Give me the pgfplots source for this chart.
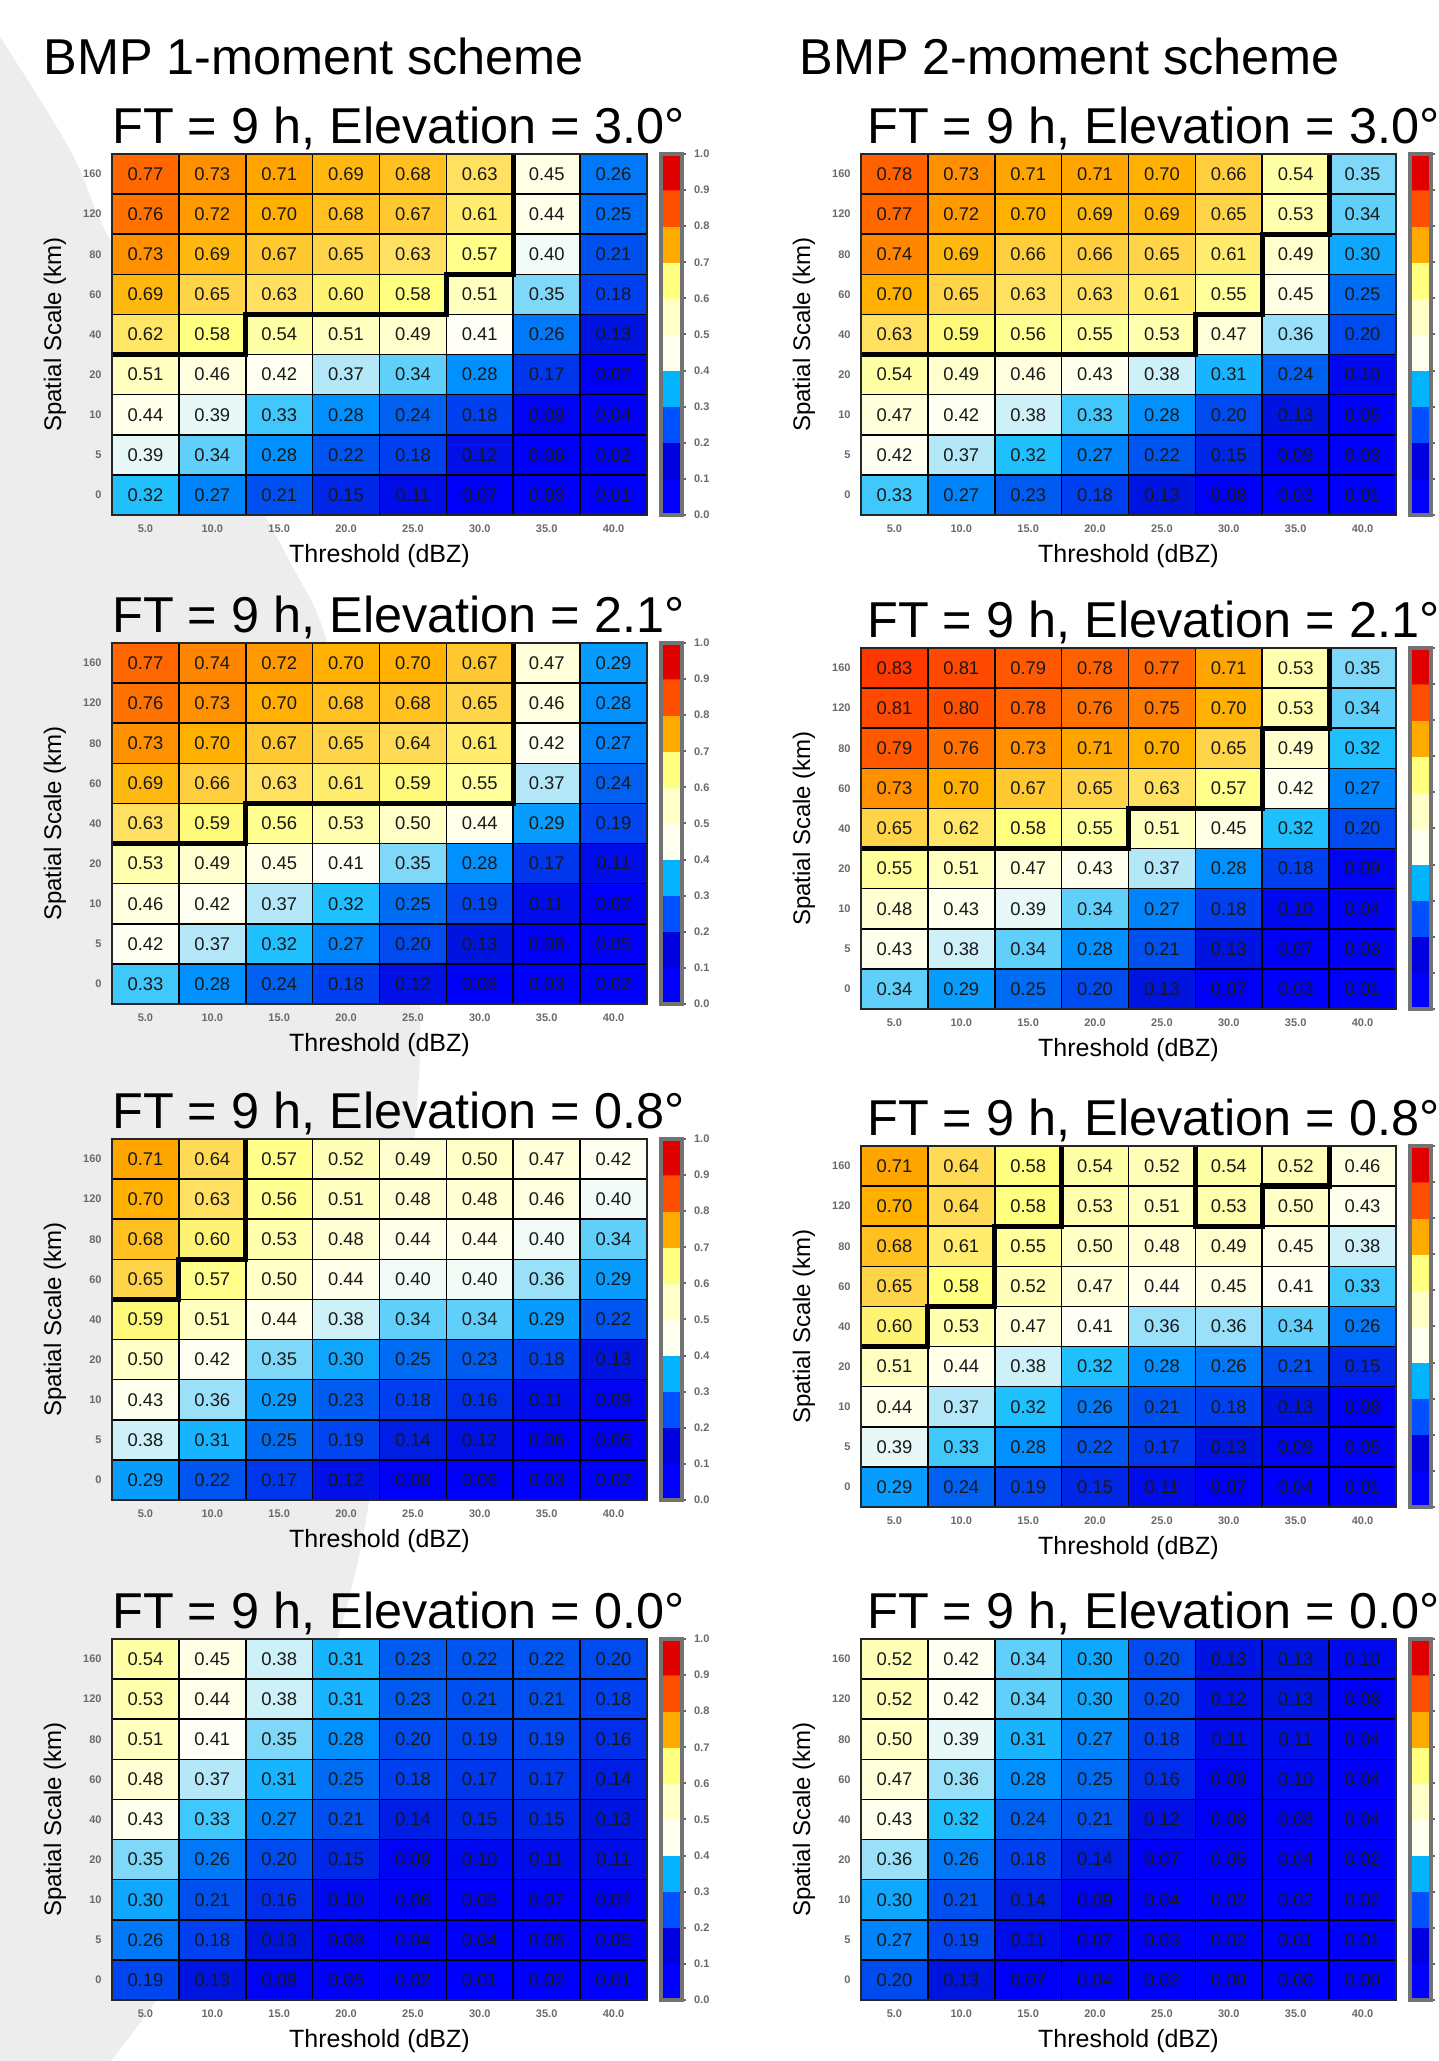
\documentclass[border=0pt]{standalone}
\usepackage{pgfplots}
\pgfplotsset{compat=1.18}
\usepackage{pgfplotstable}
\usepackage{fontspec}
\setmainfont{Liberation Sans}
\definecolor{bg}{RGB}{237,237,237}
\definecolor{ticktext}{RGB}{105,105,105}

\pgfplotsset{
  colormap={bands}{rgb255=(0,0,255) rgb255=(0,0,222) rgb255=(0,80,255) rgb255=(0,180,255) rgb255=(255,255,240) rgb255=(255,255,200) rgb255=(255,255,128) rgb255=(255,170,0) rgb255=(255,80,0) rgb255=(224,0,0)},
  colormap={fss}{rgb255(0pt)=(0,0,255) rgb255(8pt)=(0,0,248) rgb255(13pt)=(0,20,225) rgb255(18pt)=(0,64,240) rgb255(24pt)=(0,96,240) rgb255(28pt)=(0,144,255) rgb255(32pt)=(32,192,255) rgb255(35pt)=(128,216,248) rgb255(39pt)=(232,248,248) rgb255(41pt)=(255,255,245) rgb255(45pt)=(255,255,230) rgb255(51pt)=(255,255,192) rgb255(58pt)=(255,255,128) rgb255(63pt)=(255,224,96) rgb255(67pt)=(255,200,48) rgb255(70pt)=(255,176,0) rgb255(73pt)=(255,144,0) rgb255(77pt)=(255,104,0) rgb255(83pt)=(255,56,0) rgb255(100pt)=(220,0,0)},
  heat/.style={
    scale only axis, width=267.5pt, height=180.5pt, anchor=north west,
    xmin=-0.5, xmax=7.5, ymin=-0.5, ymax=8.5,
    xtick={0,...,7}, xticklabels={5.0,10.0,15.0,20.0,25.0,30.0,35.0,40.0},
    ytick={0,...,8}, yticklabels={0,5,10,20,40,60,80,120,160},
    major tick length=0pt, minor tick length=0pt,
    minor xtick={0.5,1.5,...,6.5}, minor ytick={0.5,1.5,...,7.5},
    xminorgrids=true, yminorgrids=true,
    minor grid style={black, line width=0.8pt},
    axis on top,
    axis line style={black!85, line width=1.3pt},
    tick label style={font=\fontsize{5.5}{6}\selectfont\bfseries, text=ticktext},
    xticklabel style={yshift=-1.2pt},
    yticklabel style={xshift=-1.7pt},
    colormap name=fss, point meta min=0, point meta max=1,
    xlabel={Threshold (dBZ)},
    xlabel style={at={(axis description cs:0.5,-0.1136)}, anchor=center, font=\fontsize{12.5}{14}\selectfont},
    ylabel={Spatial Scale (km)},
    ylabel style={at={(axis description cs:-0.1065,0.5)}, anchor=center, font=\fontsize{12}{14}\selectfont},
    title style={at={(axis description cs:0,1)}, anchor=base west, yshift=-1pt, font=\fontsize{25.2}{28}\selectfont, inner sep=0pt},
  },
}

\pgfplotstableread[row sep=\\]{x y c\\
0 0.05 0\\1 0.05 0\\0 0.15 1\\1 0.15 1\\0 0.25 2\\1 0.25 2\\0 0.35 3\\1 0.35 3\\0 0.45 4\\1 0.45 4\\
0 0.55 5\\1 0.55 5\\0 0.65 6\\1 0.65 6\\0 0.75 7\\1 0.75 7\\0 0.85 8\\1 0.85 8\\0 0.95 9\\1 0.95 9\\}\tbands

% Left, elevation 3.0
\pgfplotstableread[row sep=\\]{x y v\\
0 0 0.32\\1 0 0.27\\2 0 0.21\\3 0 0.15\\4 0 0.11\\5 0 0.07\\6 0 0.03\\7 0 0.01\\
0 1 0.39\\1 1 0.34\\2 1 0.28\\3 1 0.22\\4 1 0.18\\5 1 0.12\\6 1 0.06\\7 1 0.02\\
0 2 0.44\\1 2 0.39\\2 2 0.33\\3 2 0.28\\4 2 0.24\\5 2 0.18\\6 2 0.09\\7 2 0.04\\
0 3 0.51\\1 3 0.46\\2 3 0.42\\3 3 0.37\\4 3 0.34\\5 3 0.28\\6 3 0.17\\7 3 0.07\\
0 4 0.62\\1 4 0.58\\2 4 0.54\\3 4 0.51\\4 4 0.49\\5 4 0.41\\6 4 0.26\\7 4 0.13\\
0 5 0.69\\1 5 0.65\\2 5 0.63\\3 5 0.60\\4 5 0.58\\5 5 0.51\\6 5 0.35\\7 5 0.18\\
0 6 0.73\\1 6 0.69\\2 6 0.67\\3 6 0.65\\4 6 0.63\\5 6 0.57\\6 6 0.40\\7 6 0.21\\
0 7 0.76\\1 7 0.72\\2 7 0.70\\3 7 0.68\\4 7 0.67\\5 7 0.61\\6 7 0.44\\7 7 0.25\\
0 8 0.77\\1 8 0.73\\2 8 0.71\\3 8 0.69\\4 8 0.68\\5 8 0.63\\6 8 0.45\\7 8 0.26\\}\tA
% Right, elevation 3.0
\pgfplotstableread[row sep=\\]{x y v\\
0 0 0.33\\1 0 0.27\\2 0 0.23\\3 0 0.18\\4 0 0.13\\5 0 0.08\\6 0 0.03\\7 0 0.01\\
0 1 0.42\\1 1 0.37\\2 1 0.32\\3 1 0.27\\4 1 0.22\\5 1 0.15\\6 1 0.09\\7 1 0.03\\
0 2 0.47\\1 2 0.42\\2 2 0.38\\3 2 0.33\\4 2 0.28\\5 2 0.20\\6 2 0.13\\7 2 0.05\\
0 3 0.54\\1 3 0.49\\2 3 0.46\\3 3 0.43\\4 3 0.38\\5 3 0.31\\6 3 0.24\\7 3 0.10\\
0 4 0.63\\1 4 0.59\\2 4 0.56\\3 4 0.55\\4 4 0.53\\5 4 0.47\\6 4 0.36\\7 4 0.20\\
0 5 0.70\\1 5 0.65\\2 5 0.63\\3 5 0.63\\4 5 0.61\\5 5 0.55\\6 5 0.45\\7 5 0.25\\
0 6 0.74\\1 6 0.69\\2 6 0.66\\3 6 0.66\\4 6 0.65\\5 6 0.61\\6 6 0.49\\7 6 0.30\\
0 7 0.77\\1 7 0.72\\2 7 0.70\\3 7 0.69\\4 7 0.69\\5 7 0.65\\6 7 0.53\\7 7 0.34\\
0 8 0.78\\1 8 0.73\\2 8 0.71\\3 8 0.71\\4 8 0.70\\5 8 0.66\\6 8 0.54\\7 8 0.35\\}\tB
% Left, elevation 2.1
\pgfplotstableread[row sep=\\]{x y v\\
0 0 0.33\\1 0 0.28\\2 0 0.24\\3 0 0.18\\4 0 0.12\\5 0 0.08\\6 0 0.03\\7 0 0.02\\
0 1 0.42\\1 1 0.37\\2 1 0.32\\3 1 0.27\\4 1 0.20\\5 1 0.13\\6 1 0.08\\7 1 0.05\\
0 2 0.46\\1 2 0.42\\2 2 0.37\\3 2 0.32\\4 2 0.25\\5 2 0.19\\6 2 0.11\\7 2 0.07\\
0 3 0.53\\1 3 0.49\\2 3 0.45\\3 3 0.41\\4 3 0.35\\5 3 0.28\\6 3 0.17\\7 3 0.11\\
0 4 0.63\\1 4 0.59\\2 4 0.56\\3 4 0.53\\4 4 0.50\\5 4 0.44\\6 4 0.29\\7 4 0.19\\
0 5 0.69\\1 5 0.66\\2 5 0.63\\3 5 0.61\\4 5 0.59\\5 5 0.55\\6 5 0.37\\7 5 0.24\\
0 6 0.73\\1 6 0.70\\2 6 0.67\\3 6 0.65\\4 6 0.64\\5 6 0.61\\6 6 0.42\\7 6 0.27\\
0 7 0.76\\1 7 0.73\\2 7 0.70\\3 7 0.68\\4 7 0.68\\5 7 0.65\\6 7 0.46\\7 7 0.28\\
0 8 0.77\\1 8 0.74\\2 8 0.72\\3 8 0.70\\4 8 0.70\\5 8 0.67\\6 8 0.47\\7 8 0.29\\}\tC
% Right, elevation 2.1
\pgfplotstableread[row sep=\\]{x y v\\
0 0 0.34\\1 0 0.29\\2 0 0.25\\3 0 0.20\\4 0 0.13\\5 0 0.07\\6 0 0.03\\7 0 0.01\\
0 1 0.43\\1 1 0.38\\2 1 0.34\\3 1 0.28\\4 1 0.21\\5 1 0.13\\6 1 0.07\\7 1 0.03\\
0 2 0.48\\1 2 0.43\\2 2 0.39\\3 2 0.34\\4 2 0.27\\5 2 0.18\\6 2 0.10\\7 2 0.04\\
0 3 0.55\\1 3 0.51\\2 3 0.47\\3 3 0.43\\4 3 0.37\\5 3 0.28\\6 3 0.18\\7 3 0.09\\
0 4 0.65\\1 4 0.62\\2 4 0.58\\3 4 0.55\\4 4 0.51\\5 4 0.45\\6 4 0.32\\7 4 0.20\\
0 5 0.73\\1 5 0.70\\2 5 0.67\\3 5 0.65\\4 5 0.63\\5 5 0.57\\6 5 0.42\\7 5 0.27\\
0 6 0.79\\1 6 0.76\\2 6 0.73\\3 6 0.71\\4 6 0.70\\5 6 0.65\\6 6 0.49\\7 6 0.32\\
0 7 0.81\\1 7 0.80\\2 7 0.78\\3 7 0.76\\4 7 0.75\\5 7 0.70\\6 7 0.53\\7 7 0.34\\
0 8 0.83\\1 8 0.81\\2 8 0.79\\3 8 0.78\\4 8 0.77\\5 8 0.71\\6 8 0.53\\7 8 0.35\\}\tD
% Left, elevation 0.8
\pgfplotstableread[row sep=\\]{x y v\\
0 0 0.29\\1 0 0.22\\2 0 0.17\\3 0 0.12\\4 0 0.08\\5 0 0.06\\6 0 0.03\\7 0 0.02\\
0 1 0.38\\1 1 0.31\\2 1 0.25\\3 1 0.19\\4 1 0.14\\5 1 0.12\\6 1 0.06\\7 1 0.06\\
0 2 0.43\\1 2 0.36\\2 2 0.29\\3 2 0.23\\4 2 0.18\\5 2 0.16\\6 2 0.11\\7 2 0.09\\
0 3 0.50\\1 3 0.42\\2 3 0.35\\3 3 0.30\\4 3 0.25\\5 3 0.23\\6 3 0.18\\7 3 0.13\\
0 4 0.59\\1 4 0.51\\2 4 0.44\\3 4 0.38\\4 4 0.34\\5 4 0.34\\6 4 0.29\\7 4 0.22\\
0 5 0.65\\1 5 0.57\\2 5 0.50\\3 5 0.44\\4 5 0.40\\5 5 0.40\\6 5 0.36\\7 5 0.29\\
0 6 0.68\\1 6 0.60\\2 6 0.53\\3 6 0.48\\4 6 0.44\\5 6 0.44\\6 6 0.40\\7 6 0.34\\
0 7 0.70\\1 7 0.63\\2 7 0.56\\3 7 0.51\\4 7 0.48\\5 7 0.48\\6 7 0.46\\7 7 0.40\\
0 8 0.71\\1 8 0.64\\2 8 0.57\\3 8 0.52\\4 8 0.49\\5 8 0.50\\6 8 0.47\\7 8 0.42\\}\tE
% Right, elevation 0.8
\pgfplotstableread[row sep=\\]{x y v\\
0 0 0.29\\1 0 0.24\\2 0 0.19\\3 0 0.15\\4 0 0.11\\5 0 0.07\\6 0 0.04\\7 0 0.01\\
0 1 0.39\\1 1 0.33\\2 1 0.28\\3 1 0.22\\4 1 0.17\\5 1 0.13\\6 1 0.09\\7 1 0.05\\
0 2 0.44\\1 2 0.37\\2 2 0.32\\3 2 0.26\\4 2 0.21\\5 2 0.18\\6 2 0.13\\7 2 0.08\\
0 3 0.51\\1 3 0.44\\2 3 0.38\\3 3 0.32\\4 3 0.28\\5 3 0.26\\6 3 0.21\\7 3 0.15\\
0 4 0.60\\1 4 0.53\\2 4 0.47\\3 4 0.41\\4 4 0.36\\5 4 0.36\\6 4 0.34\\7 4 0.26\\
0 5 0.65\\1 5 0.58\\2 5 0.52\\3 5 0.47\\4 5 0.44\\5 5 0.45\\6 5 0.41\\7 5 0.33\\
0 6 0.68\\1 6 0.61\\2 6 0.55\\3 6 0.50\\4 6 0.48\\5 6 0.49\\6 6 0.45\\7 6 0.38\\
0 7 0.70\\1 7 0.64\\2 7 0.58\\3 7 0.53\\4 7 0.51\\5 7 0.53\\6 7 0.50\\7 7 0.43\\
0 8 0.71\\1 8 0.64\\2 8 0.58\\3 8 0.54\\4 8 0.52\\5 8 0.54\\6 8 0.52\\7 8 0.46\\}\tF
% Left, elevation 0.0
\pgfplotstableread[row sep=\\]{x y v\\
0 0 0.19\\1 0 0.13\\2 0 0.09\\3 0 0.05\\4 0 0.02\\5 0 0.01\\6 0 0.02\\7 0 0.01\\
0 1 0.26\\1 1 0.18\\2 1 0.13\\3 1 0.08\\4 1 0.04\\5 1 0.04\\6 1 0.05\\7 1 0.05\\
0 2 0.30\\1 2 0.21\\2 2 0.16\\3 2 0.10\\4 2 0.06\\5 2 0.05\\6 2 0.07\\7 2 0.07\\
0 3 0.35\\1 3 0.26\\2 3 0.20\\3 3 0.15\\4 3 0.09\\5 3 0.10\\6 3 0.11\\7 3 0.11\\
0 4 0.43\\1 4 0.33\\2 4 0.27\\3 4 0.21\\4 4 0.14\\5 4 0.15\\6 4 0.15\\7 4 0.13\\
0 5 0.48\\1 5 0.37\\2 5 0.31\\3 5 0.25\\4 5 0.18\\5 5 0.17\\6 5 0.17\\7 5 0.14\\
0 6 0.51\\1 6 0.41\\2 6 0.35\\3 6 0.28\\4 6 0.20\\5 6 0.19\\6 6 0.19\\7 6 0.16\\
0 7 0.53\\1 7 0.44\\2 7 0.38\\3 7 0.31\\4 7 0.23\\5 7 0.21\\6 7 0.21\\7 7 0.18\\
0 8 0.54\\1 8 0.45\\2 8 0.38\\3 8 0.31\\4 8 0.23\\5 8 0.22\\6 8 0.22\\7 8 0.20\\}\tG
% Right, elevation 0.0
\pgfplotstableread[row sep=\\]{x y v\\
0 0 0.20\\1 0 0.13\\2 0 0.07\\3 0 0.04\\4 0 0.02\\5 0 0.00\\6 0 0.00\\7 0 0.00\\
0 1 0.27\\1 1 0.19\\2 1 0.11\\3 1 0.07\\4 1 0.03\\5 1 0.02\\6 1 0.01\\7 1 0.01\\
0 2 0.30\\1 2 0.21\\2 2 0.14\\3 2 0.09\\4 2 0.04\\5 2 0.02\\6 2 0.02\\7 2 0.02\\
0 3 0.36\\1 3 0.26\\2 3 0.18\\3 3 0.14\\4 3 0.07\\5 3 0.05\\6 3 0.04\\7 3 0.02\\
0 4 0.43\\1 4 0.32\\2 4 0.24\\3 4 0.21\\4 4 0.12\\5 4 0.08\\6 4 0.08\\7 4 0.04\\
0 5 0.47\\1 5 0.36\\2 5 0.28\\3 5 0.25\\4 5 0.16\\5 5 0.09\\6 5 0.10\\7 5 0.04\\
0 6 0.50\\1 6 0.39\\2 6 0.31\\3 6 0.27\\4 6 0.18\\5 6 0.11\\6 6 0.11\\7 6 0.04\\
0 7 0.52\\1 7 0.42\\2 7 0.34\\3 7 0.30\\4 7 0.20\\5 7 0.12\\6 7 0.13\\7 7 0.08\\
0 8 0.52\\1 8 0.42\\2 8 0.34\\3 8 0.30\\4 8 0.20\\5 8 0.13\\6 8 0.13\\7 8 0.10\\}\tH

\newcommand\panel[6]{%
\begin{axis}[heat, at={(#1,#2)}, title={#4}, title style={xshift=#6}]
\addplot[matrix plot*, mesh/cols=8, point meta=explicit] table[x=x,y=y,meta=v]{#3};
#5
\addplot[draw=none, mark=none, nodes near coords, point meta=explicit symbolic,
  nodes near coords style={anchor=center, font=\fontsize{9.2}{10}\selectfont, text=black!90, inner sep=0pt}]
  table[x=x,y=y,meta=v]{#3};
\end{axis}}

\newcommand\cbar[2]{%
\begin{axis}[at={(#1,#2)}, anchor=north west, scale only axis, width=10.5pt, height=180.5pt,
  xmin=-0.5, xmax=1.5, ymin=0, ymax=1, xtick=\empty,
  ytick={0,0.1,0.2,0.3,0.4,0.5,0.6,0.7,0.8,0.9,1},
  yticklabels={0.0,0.1,0.2,0.3,0.4,0.5,0.6,0.7,0.8,0.9,1.0},
  yticklabel pos=right, ytick pos=right, tick align=outside, major tick length=2pt,
  tick style={black!60, line width=1pt},
  tick label style={font=\fontsize{5.5}{6}\selectfont\bfseries, text=ticktext},
  yticklabel style={xshift=0.5pt},
  colormap name=bands, colormap access=direct,
  axis on top, axis line style={black!55, line width=1.6pt}]
\addplot[matrix plot*, mesh/cols=2, point meta=explicit] table[x=x,y=y,meta=c]{\tbands};
\end{axis}}

\tikzset{contour/.style={black, line width=2.6pt, line join=miter}}

\begin{document}
\begin{tikzpicture}
\path[use as bounding box] (0pt,0pt) rectangle (719.5pt,1030.5pt);
\fill[bg] plot[smooth, tension=0.6] coordinates {(0pt,1012pt) (35pt,955.5pt) (55pt,910.5pt) (100pt,830.5pt) (144.5pt,750.5pt) (165pt,705.5pt) (200pt,580.5pt) (210pt,505.5pt) (195pt,355.5pt) (170pt,215.5pt) (110pt,80.5pt) (55.5pt,0pt)} -- (0pt,0pt) -- cycle;

\node[anchor=base west, font=\fontsize{25.2}{30}\selectfont, inner sep=0pt] at (21.5pt,993pt) {BMP 1-moment scheme};
\node[anchor=base west, font=\fontsize{25.2}{30}\selectfont, inner sep=0pt] at (399.5pt,993pt) {BMP 2-moment scheme};

\panel{56pt}{953.5pt}{\tA}{FT = 9 h, Elevation = 3.0°}{\addplot[contour] coordinates {(-0.5,3.5) (1.5,3.5) (1.5,4.5) (4.5,4.5) (4.5,5.5) (5.5,5.5) (5.5,8.5)};}{0pt}
\panel{430.5pt}{953.5pt}{\tB}{FT = 9 h, Elevation = 3.0°}{\addplot[contour] coordinates {(-0.5,3.5) (4.5,3.5) (4.5,4.5) (5.5,4.5) (5.5,6.5) (6.5,6.5) (6.5,8.5)};}{3pt}
\panel{56pt}{709pt}{\tC}{FT = 9 h, Elevation = 2.1°}{\addplot[contour] coordinates {(-0.5,3.5) (1.5,3.5) (1.5,4.5) (5.5,4.5) (5.5,8.5)};}{0pt}
\panel{430.5pt}{706.5pt}{\tD}{FT = 9 h, Elevation = 2.1°}{\addplot[contour] coordinates {(-0.5,3.5) (3.5,3.5) (3.5,4.5) (5.5,4.5) (5.5,6.5) (6.5,6.5) (6.5,8.5)};}{3pt}
\panel{56pt}{461pt}{\tE}{FT = 9 h, Elevation = 0.8°}{\addplot[contour] coordinates {(-0.5,4.5) (0.5,4.5) (0.5,5.5) (1.5,5.5) (1.5,8.5)};}{0pt}
\panel{430.5pt}{457.5pt}{\tF}{FT = 9 h, Elevation = 0.8°}{\addplot[contour] coordinates {(-0.5,3.5) (0.5,3.5) (0.5,4.5) (1.5,4.5) (1.5,6.5) (2.5,6.5) (2.5,8.5)};
\addplot[contour] coordinates {(4.5,8.5) (4.5,6.5) (5.5,6.5) (5.5,7.5) (6.5,7.5) (6.5,8.5)};}{3pt}
\panel{56pt}{211pt}{\tG}{FT = 9 h, Elevation = 0.0°}{}{0pt}
\panel{430.5pt}{211pt}{\tH}{FT = 9 h, Elevation = 0.0°}{}{3pt}

\cbar{330.5pt}{953.5pt}
\cbar{705pt}{953.5pt}
\cbar{330.5pt}{709pt}
\cbar{705pt}{706.5pt}
\cbar{330.5pt}{461pt}
\cbar{705pt}{457.5pt}
\cbar{330.5pt}{211pt}
\cbar{705pt}{211pt}
\end{tikzpicture}
\end{document}
